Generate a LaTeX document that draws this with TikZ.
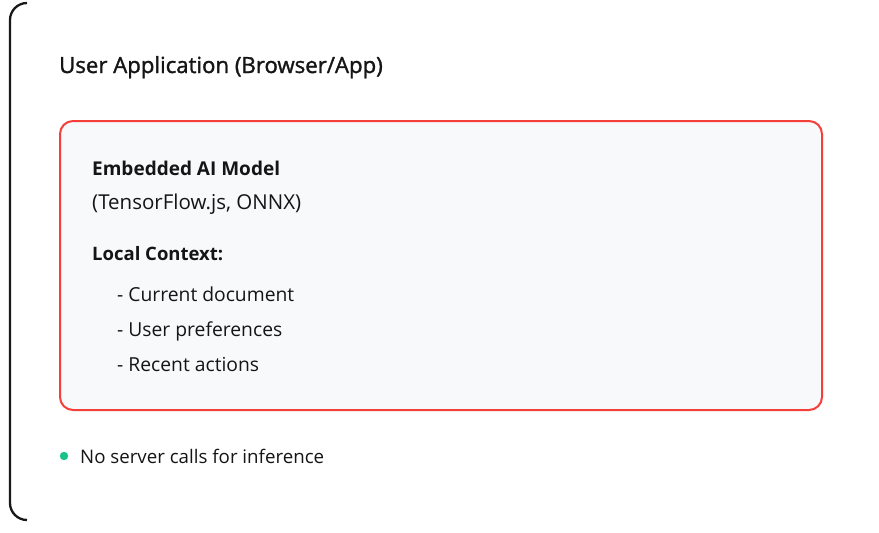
\documentclass[tikz,border=0pt]{standalone}
\usepackage{fontspec}
\setmainfont{Open Sans}
\newfontfamily\medfont[FakeBold=1.4]{Open Sans}
\definecolor{redb}{HTML}{F5403A}
\definecolor{boxfill}{HTML}{F8F9FB}
\definecolor{greendot}{HTML}{19C08A}
\definecolor{txt}{HTML}{151515}
\tikzset{
  lbl/.style={anchor=base west, inner sep=0pt, text=txt},
}
\begin{document}
\begin{tikzpicture}[x=1pt,y=-1pt]
\useasboundingbox (0,0) rectangle (879,533);
\fill[white] (0,0) rectangle (879,533);
% outer card left border
\draw[line width=2.3pt, black!90] (27,3) arc[start angle=270, end angle=180, radius=17] -- (10,503) arc[start angle=180, end angle=90, radius=17];
\node[lbl, font=\medfont\fontsize{22.2}{26}\selectfont] (title) at (59,73) {User Application (Browser/App)};
% inner box
\draw[line width=2pt, redb, fill=boxfill, rounded corners=13pt] (60,121) rectangle (822,410);
\node[lbl, font=\bfseries\fontsize{19}{22}\selectfont] (model) at (92,175) {Embedded AI Model};
\node[lbl, font=\fontsize{20.5}{22}\selectfont] (fw) at (92,209) {(TensorFlow.js, ONNX)};
\node[lbl, font=\bfseries\fontsize{18.5}{22}\selectfont] (ctx) at (92,260) {Local Context:};
\node[lbl, font=\fontsize{19.3}{22}\selectfont] (i1) at (117,301) {- Current document};
\node[lbl, font=\fontsize{19.3}{22}\selectfont] (i2) at (117,336) {- User preferences};
\node[lbl, font=\fontsize{19.3}{22}\selectfont] (i3) at (117,371) {- Recent actions};
\fill[greendot] (64,456) circle (4.2);
\node[lbl, font=\fontsize{18.7}{22}\selectfont] (note) at (80,463) {No server calls for inference};
\end{tikzpicture}
\end{document}
